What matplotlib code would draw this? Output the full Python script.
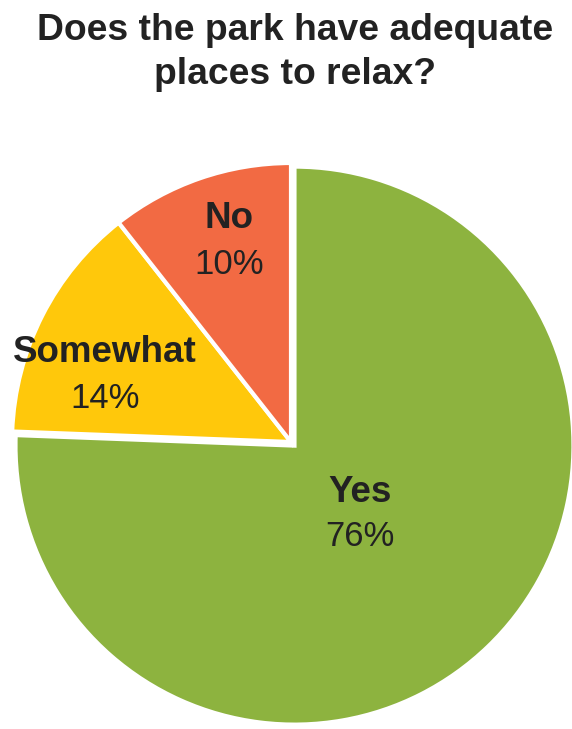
import matplotlib
matplotlib.use("Agg")
import matplotlib.pyplot as plt

categories = ["Yes", "Somewhat", "No"]
values = [75.6, 13.8, 10.6]
labels_pct = ["76%", "14%", "10%"]
colors = ["#8DB33F", "#FFC80B", "#F26A43"]
explode = [0.018, 0, 0]

plt.rcParams['font.family'] = ['Liberation Sans', 'DejaVu Sans']

W, H = 572, 729
fig = plt.figure(figsize=(W/100, H/100), dpi=100)
fig.patch.set_facecolor("white")

cx, cy, r = 291, 442, 279
ax = fig.add_axes([(cx - r)/W, (H - cy - r)/H, 2*r/W, 2*r/H])
wedges, _ = ax.pie(values, colors=colors, startangle=90, counterclock=False,
                   explode=explode, radius=1,
                   wedgeprops=dict(edgecolor="white", linewidth=3, clip_on=False))
ax.set_xlim(-1, 1)
ax.set_ylim(-1, 1)
ax.set_aspect("equal")
ax.axis("off")

def px(x, y):
    return ((x - cx)/r, (cy - y)/r)

label_pos = {"Yes": (360, 492), "Somewhat": (105, 353), "No": (229, 219)}
for cat, pct in zip(categories, labels_pct):
    x, y = label_pos[cat]
    ax.text(*px(x, y), cat, ha="center", va="center", fontsize=26.5,
            fontweight="bold", color="#222222")
    ax.text(*px(x, y + 45), pct, ha="center", va="center", fontsize=25,
            color="#222222")

fig.text(295/W, 1 - 30/H, "Does the park have adequate", ha="center", va="center",
         fontsize=26.8, fontweight="bold", color="#222222")
fig.text(295/W, 1 - 75/H, "places to relax?", ha="center", va="center",
         fontsize=26.8, fontweight="bold", color="#222222")

fig.savefig("out.png", dpi=100)
